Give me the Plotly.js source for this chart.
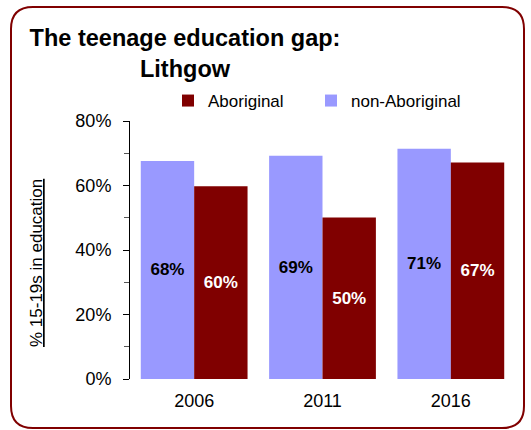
<!DOCTYPE html>
<html>
<head>
<meta charset="utf-8">
<script src="https://cdn.plot.ly/plotly-3.0.1.min.js"></script>
<style>html,body{margin:0;padding:0;background:#fff;}#chart{width:531px;height:430px;}</style>
</head>
<body>
<div id="chart"></div>
<script>
var years = ['2006', '2011', '2016'];
var nonAboriginal = [67.6, 69.2, 71.4];
var aboriginal = [59.8, 50.1, 67.1];
var seriesNames = ['non-Aboriginal', 'Aboriginal'];
var yTickVals = [0, 20, 40, 60, 80];
var yTickText = ['0%', '20%', '40%', '60%', '80%'];

var W = 531, H = 430;
var ML = 130, MR = 16, MT = 121, MB = 51;
var PW = W - ML - MR, PH = H - MT - MB;
function px(x) { return (x - ML) / PW; }
function py(y) { return (H - MB - y) / PH; }

var FONT = 'Liberation Sans, Arial, sans-serif';

// rounded border path in paper coordinates
var L = 11, R = 524, T = 7, B = 428, r = 22;
var path = 'M' + px(L + r) + ',' + py(T) +
  ' L' + px(R - r) + ',' + py(T) +
  ' Q' + px(R) + ',' + py(T) + ' ' + px(R) + ',' + py(T + r) +
  ' L' + px(R) + ',' + py(B - r) +
  ' Q' + px(R) + ',' + py(B) + ' ' + px(R - r) + ',' + py(B) +
  ' L' + px(L + r) + ',' + py(B) +
  ' Q' + px(L) + ',' + py(B) + ' ' + px(L) + ',' + py(B - r) +
  ' L' + px(L) + ',' + py(T + r) +
  ' Q' + px(L) + ',' + py(T) + ' ' + px(L + r) + ',' + py(T) + ' Z';

var traces = [
  {
    type: 'bar', name: seriesNames[0], x: years, y: nonAboriginal,
    marker: {color: '#9999FF', line: {width: 0}},
    texttemplate: '<b>%{y:.0f}%</b>', textposition: 'inside', insidetextanchor: 'middle',
    textangle: 0, constraintext: 'none',
    textfont: {family: FONT, size: 17, color: '#000000'},
    legend: 'legend2', hoverinfo: 'skip'
  },
  {
    type: 'bar', name: seriesNames[1], x: years, y: aboriginal,
    marker: {color: '#800000', line: {width: 0}},
    texttemplate: '<b>%{y:.0f}%</b>', textposition: 'inside', insidetextanchor: 'middle',
    textangle: 0, constraintext: 'none',
    textfont: {family: FONT, size: 17, color: '#FFFFFF'},
    legend: 'legend', hoverinfo: 'skip'
  }
];

function legendAt(xpx) {
  return {
    orientation: 'h', x: px(xpx), xanchor: 'left', y: py(101), yanchor: 'middle',
    font: {family: FONT, size: 17, color: '#000000'},
    bgcolor: 'rgba(0,0,0,0)', borderwidth: 0,
    itemclick: false, itemdoubleclick: false
  };
}

var layout = {
  width: W, height: H,
  margin: {l: ML, r: MR, t: MT, b: MB, pad: 0},
  paper_bgcolor: '#ffffff', plot_bgcolor: '#ffffff',
  font: {family: FONT, color: '#000000'},
  barmode: 'group', bargap: 0.168, bargroupgap: 0,
  title: {
    text: '<b>The teenage education gap:</b><br><b>Lithgow</b>',
    font: {family: FONT, size: 23.5, color: '#000000'},
    x: 185 / W, xanchor: 'center', xref: 'container',
    y: 1 - 46 / H, yanchor: 'top', yref: 'container'
  },
  showlegend: true,
  legend: legendAt(168),
  legend2: legendAt(311),
  xaxis: {
    type: 'category', range: [-0.5, 2.5], showline: false, ticks: '',
    showgrid: false, zeroline: false, ticklabelstandoff: 9,
    tickfont: {family: FONT, size: 18, color: '#000000'}
  },
  yaxis: {
    range: [0, 80], tickvals: yTickVals, ticktext: yTickText,
    showline: true, linecolor: '#000000', linewidth: 1,
    ticks: 'outside', ticklen: 6, tickcolor: '#000000', tickwidth: 1,
    minor: {dtick: 10, ticks: 'outside', ticklen: 5, tickcolor: '#555555', tickwidth: 1},
    showgrid: false, zeroline: false,
    ticklabelstandoff: 8,
    tickfont: {family: FONT, size: 18, color: '#000000'}
  },
  annotations: [{
    text: '<u>% 15-19s in education</u>', textangle: -90,
    xref: 'paper', yref: 'paper', x: px(36), y: py(263),
    xanchor: 'center', yanchor: 'middle', showarrow: false,
    font: {family: FONT, size: 17, color: '#000000'}
  }],
  shapes: [{
    type: 'path', xref: 'paper', yref: 'paper', path: path,
    line: {color: '#800000', width: 2}, fillcolor: 'rgba(0,0,0,0)', layer: 'above'
  }]
};

Plotly.newPlot('chart', traces, layout, {displayModeBar: false, staticPlot: true});
</script>
</body>
</html>
